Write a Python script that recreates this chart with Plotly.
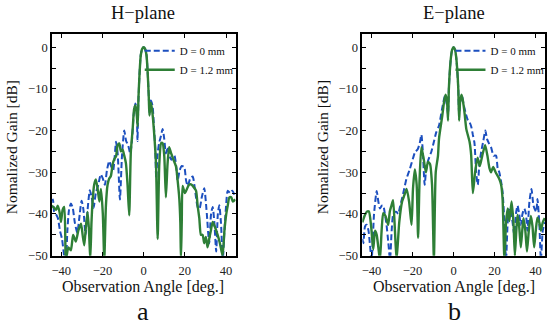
import plotly.graph_objects as go

# ---------------- data ----------------
# H-plane, D = 0 mm
h_ang_0 = [-44.5, -44.0, -43.4, -42.6, -41.6, -40.6, -39.6, -38.6, -37.8, -37.0,
           -36.2, -35.3, -34.4, -33.4, -32.2, -31.0, -30.1, -29.2, -28.2, -27.2,
           -26.1, -25.2, -24.3, -23.2, -22.0, -20.8, -19.8, -18.8, -17.8, -16.7,
           -15.8, -14.8, -14.0, -13.4, -12.6, -11.5, -10.5, -9.4, -8.5, -7.5,
           -6.5, -5.6, -4.8, -4.0, -3.4, -3.0, -2.6, -2.1, -1.4, -0.7,
           0.0, 0.7, 1.4, 2.1, 2.6, 2.9, 3.5, 4.3, 5.0, 5.6,
           6.1, 6.7, 7.5, 8.3, 9.2, 10.0, 10.8, 11.6, 12.5, 13.5,
           14.9, 15.8, 16.5, 17.5, 18.5, 19.7, 20.6, 21.4, 22.6, 23.8,
           24.6, 25.4, 26.3, 27.1, 28.2, 29.4, 30.5, 31.8, 32.7, 33.5,
           34.3, 35.2, 36.0, 36.7, 37.5, 38.4, 39.2, 40.0, 40.8, 42.0,
           43.0, 44.5]
h_gain_0 = [-37, -36.5, -39.5, -40, -41, -44, -46, -50, -53, -44,
            -39, -37.5, -38.5, -42, -44.5, -40, -36.8, -39, -45, -39,
            -34.3, -36, -38.5, -35, -33, -30.5, -31.5, -33, -29.5, -27.3,
            -28.5, -29.5, -26, -22.7, -25.5, -36.5, -26, -20, -22.5, -23.5,
            -25.5, -22, -16, -13.5, -15, -22.5, -14, -7.5, -1.9, -0.4,
            0, -0.4, -1.9, -7.5, -13, -16, -12.8, -14, -19, -24,
            -31.5, -26, -23, -21.5, -19.6, -22, -25.5, -24, -26, -27,
            -26, -28.5, -32, -29.5, -28.5, -28.8, -32, -33.3, -31.5, -31,
            -33, -36, -38.5, -38.7, -36, -33.8, -39, -47, -40, -38.3,
            -42, -49, -40, -37.9, -42, -51, -44, -38, -34.4, -35,
            -34.4, -36]

# H-plane, D = 1.2 mm
h_ang_12 = [-44.5, -43.5, -42.5, -41.7, -40.8, -40.1, -39.3, -38.5, -37.7, -36.5,
            -35.3, -34.2, -32.9, -31.7, -30.4, -29.6, -28.8, -28.0, -27.2, -26.5,
            -25.9, -25.3, -24.8, -24.0, -23.2, -22.3, -21.5, -20.7, -19.8, -19.1,
            -18.3, -17.5, -16.7, -15.9, -15.0, -14.2, -13.4, -12.6, -11.8, -11.0,
            -10.2, -9.4, -8.6, -7.8, -7.0, -6.2, -5.3, -4.6, -3.9, -3.3,
            -2.9, -2.5, -2.0, -1.4, -0.7, 0.0, 0.7, 1.4, 2.0, 2.5,
            2.8, 3.5, 4.1, 4.6, 5.3, 6.0, 6.8, 7.6, 8.5, 9.2,
            10.0, 10.8, 11.6, 12.4, 13.3, 14.5, 15.7, 16.5, 17.3, 17.8,
            18.1, 18.5, 18.9, 20.0, 21.0, 22.0, 23.0, 24.2, 25.4, 26.2,
            27.0, 27.8, 28.6, 29.4, 30.2, 31.0, 31.8, 32.6, 33.5, 34.5,
            35.9, 37.0, 38.3, 39.2, 40.0, 40.8, 41.6, 42.5, 43.3, 44.5]
h_gain_12 = [-38, -38.5, -39, -38, -39.5, -41.9, -39, -38.3, -51, -48,
             -48.7, -45, -46.6, -44, -42.3, -45, -47.5, -43, -39.5, -44,
             -51, -42, -37.2, -33, -31.7, -34, -37, -34, -40, -51,
             -38, -33, -31.5, -30.9, -28, -26.8, -26.2, -23.5, -23.1, -25,
             -24.6, -26, -27.8, -33, -40.3, -25, -19.5, -14.8, -14, -16.5,
             -19, -12, -6.5, -2, -0.4, 0, -0.4, -2, -6.5, -12,
             -16.4, -13.3, -15, -17.5, -22, -28, -46, -28, -23, -23,
             -26, -36, -28, -24, -25.4, -27, -28.6, -32, -36.3, -42,
             -51, -42, -33.3, -35, -34, -33, -32.9, -33.5, -34.4, -38,
             -41, -45, -45, -47, -45.5, -48, -46, -44, -41.9, -43,
             -45, -47, -50, -44, -40.3, -38, -36, -36, -37, -36.5]

# E-plane, D = 0 mm
e_ang_0 = [-44.5, -44.0, -43.2, -42.4, -41.5, -40.0, -38.8, -37.5, -36.7, -35.9,
           -35.0, -34.3, -33.5, -32.7, -31.8, -31.0, -30.2, -29.5, -28.6, -27.8,
           -27.0, -26.2, -25.0, -24.1, -23.0, -21.4, -19.7, -18.8, -17.5, -16.5,
           -15.7, -15.0, -14.1, -13.3, -12.3, -10.8, -9.6, -8.5, -7.1, -5.5,
           -4.2, -3.4, -2.7, -2.3, -1.8, -1.3, -0.7, 0.0, 0.7, 1.3,
           1.8, 2.3, 2.7, 3.3, 4.0, 5.0, 6.0, 7.0, 7.8, 8.6,
           9.4, 10.2, 11.0, 11.8, 12.6, 13.5, 14.5, 15.5, 16.3, 17.2,
           18.3, 19.5, 20.7, 21.5, 22.3, 23.1, 23.9, 24.8, 25.6, 26.4,
           27.2, 28.2, 29.6, 30.4, 31.2, 32.0, 32.8, 33.6, 34.5, 35.3,
           36.0, 37.0, 38.0, 39.0, 40.3, 40.9, 41.8, 42.6, 43.5, 44.5]
e_gain_0 = [-46, -47, -43, -42.6, -44, -51, -40, -34.5, -37, -38.7,
            -38, -38, -40, -42.6, -47, -51, -44, -40.2, -39.5, -39.5,
            -40, -38.4, -36, -34, -31.6, -29.3, -26.5, -25.2, -24.5, -23,
            -21, -25, -33, -29, -27, -25, -22.7, -20.5, -18.8, -14.5,
            -11.7, -13.5, -16, -10, -5.5, -2.5, -0.6, 0, -0.6, -2.5,
            -5.5, -10, -16, -13, -11.5, -14, -16, -17.5, -18, -19,
            -21, -23, -30, -33, -28, -25, -22.5, -20, -22, -23,
            -24, -26, -26, -29, -30, -32, -34.7, -42, -51, -42,
            -38.7, -40, -45, -40, -38, -40, -42.6, -40, -38.7, -40,
            -44, -37, -34, -38, -39.5, -36.4, -42, -51, -44, -42]

# E-plane, D = 1.2 mm
e_ang_12 = [-44.5, -43.2, -42.2, -41.3, -40.2, -39.2, -38.3, -37.5, -36.7, -35.9,
            -35.1, -34.3, -33.2, -31.9, -31.1, -30.3, -29.5, -28.6, -27.8, -26.5,
            -25.1, -24.0, -22.9, -21.7, -20.5, -19.8, -18.9, -18.0, -17.3, -16.6,
            -15.7, -14.5, -13.5, -12.5, -11.5, -10.5, -9.6, -8.7, -7.6, -7.1,
            -5.5, -4.6, -3.9, -3.2, -2.7, -2.3, -1.8, -1.3, -0.7, 0.0,
            0.7, 1.3, 1.8, 2.3, 2.7, 3.2, 3.9, 4.6, 5.4, 6.2,
            7.8, 8.6, 9.4, 10.5, 11.7, 12.8, 14.0, 15.4, 16.5, 17.5,
            18.3, 19.3, 20.5, 22.3, 23.2, 23.9, 24.8, 25.6, 26.4, 27.2,
            28.3, 29.2, 29.9, 30.6, 31.2, 32.0, 32.8, 33.5, 34.1, 35.0,
            35.8, 36.7, 37.7, 38.5, 39.3, 40.1, 40.9, 41.8, 42.6, 43.5,
            44.5]
e_gain_12 = [-42, -40.2, -39.4, -39.4, -43, -48.5, -44, -45, -48, -51,
             -44, -39.8, -40.5, -42.6, -39.4, -38, -36.7, -44, -51, -42,
             -37, -35.5, -34, -37, -42.6, -34, -29.3, -33, -45.7, -32,
             -24, -27, -30, -27.5, -28, -33, -51, -30, -26, -21.9,
             -16.4, -13, -11.4, -13, -17.6, -10, -5.5, -2.5, -0.6, 0,
             -0.6, -2.5, -5.5, -10, -17.6, -13, -11.4, -13, -16, -19.6,
             -22.7, -26, -35, -30, -26.5, -28.5, -26, -23.5, -26, -29,
             -30, -28.7, -30, -31.6, -33, -36.4, -51, -42, -38.7, -41.7,
             -37, -42, -50, -44, -40.2, -43, -48, -44, -41, -44,
             -49, -44, -40.5, -43, -48, -44, -40.9, -42, -44, -42,
             -41]

series_names = ["D = 0 mm", "D = 1.2 mm"]
panel_titles = ["H\u2212plane", "E\u2212plane"]
panel_letters = ["a", "b"]
x_ticks = [-40, -20, 0, 20, 40]
y_ticks = [0, -10, -20, -30, -40, -50]

# ---------------- styling ----------------
BLUE = "#1c4fbf"
GREEN = "#2e7f36"
SERIF = "Liberation Serif"
W, H = 550, 326

fig = go.Figure()

panels = [
    (h_ang_0, h_gain_0, h_ang_12, h_gain_12, "x", "y", "legend"),
    (e_ang_0, e_gain_0, e_ang_12, e_gain_12, "x2", "y2", "legend2"),
]
for k, (a0, g0, a1, g1, xa, ya, lg) in enumerate(panels):
    fig.add_trace(go.Scatter(x=a0, y=g0, mode="lines", name=series_names[0],
                             xaxis=xa, yaxis=ya, legend=lg, legendgroup=f"b{k}",
                             line=dict(color=BLUE, width=2, dash="6px,3px",
                                       shape="spline", smoothing=0.6)))
    fig.add_trace(go.Scatter(x=a1, y=g1, mode="lines", name=series_names[1],
                             xaxis=xa, yaxis=ya, legend=lg, legendgroup=f"g{k}",
                             line=dict(color=GREEN, width=2.4,
                                       shape="spline", smoothing=0.6)))


def px_x(p):
    return p / W


def px_y(p):
    return 1 - p / H


ax_common = dict(showline=True, linecolor="black", linewidth=1.5, mirror="ticks",
                 ticks="inside", ticklen=4, tickwidth=1, tickcolor="black",
                 showgrid=False, zeroline=False,
                 tickfont=dict(family=SERIF, size=12.5, color="#222"))

xdoms = [(51, 235), (362, 545)]
ydom = [px_y(261.3), px_y(35)]

for i, (l, r) in enumerate(xdoms):
    sfx = "" if i == 0 else str(i + 1)
    fig.layout["xaxis" + sfx] = dict(ax_common, domain=[px_x(l), px_x(r)],
                                     range=[-44.5, 44.6], tickvals=x_ticks,
                                     anchor="y" + sfx, ticklabelstandoff=3)
    fig.layout["yaxis" + sfx] = dict(ax_common, domain=ydom, range=[-50, 3.1],
                                     tickvals=y_ticks, anchor="x" + sfx,
                                     minor=dict(tickvals=[-5, -15, -25, -35, -45],
                                                ticks="inside", ticklen=4,
                                                tickcolor="black", tickwidth=1))

annotations = []
centers = [142.7, 454]
ylab_x = [10.5, 322]
for i in range(2):
    cx = centers[i]
    base = dict(xref="paper", yref="paper", showarrow=False,
                xanchor="center", yanchor="middle")
    annotations.append(dict(base, text=panel_titles[i], x=px_x(cx), y=px_y(13),
                            font=dict(family=SERIF, size=18.5, color="#111")))
    annotations.append(dict(base, text="Observation Angle [deg.]", x=px_x(cx), y=px_y(293),
                            font=dict(family=SERIF, size=16, color="#111")))
    annotations.append(dict(base, text=panel_letters[i], x=px_x(cx), y=px_y(318),
                            font=dict(family=SERIF, size=26, color="#111")))
    annotations.append(dict(base, text="Nomalized Gain [dB]", x=px_x(ylab_x[i]), y=px_y(150),
                            textangle=-90,
                            font=dict(family=SERIF, size=15.5, color="#111")))

leg_common = dict(bgcolor="rgba(0,0,0,0)", borderwidth=0, xanchor="left", yanchor="top",
                  font=dict(family=SERIF, size=11, color="#111"),
                  tracegroupgap=0)
fig.update_layout(
    width=W, height=H,
    margin=dict(l=0, r=0, t=0, b=0),
    paper_bgcolor="white", plot_bgcolor="white",
    showlegend=True,
    legend=dict(leg_common, x=px_x(139), y=px_y(37)),
    legend2=dict(leg_common, x=px_x(139 + 311.3), y=px_y(37)),
    annotations=annotations,
)

fig.write_html("out.html", config={"displayModeBar": False},
               post_script="document.body.style.margin='0';document.body.style.padding='0';")
